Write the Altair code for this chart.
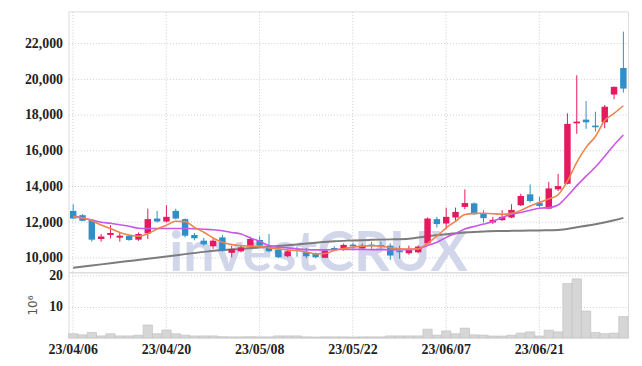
import altair as alt
import pandas as pd

dates = ["23/04/06", "23/04/07", "23/04/10", "23/04/11", "23/04/12", "23/04/13", "23/04/14",
         "23/04/17", "23/04/18", "23/04/19", "23/04/20", "23/04/21", "23/04/24", "23/04/25",
         "23/04/26", "23/04/27", "23/04/28", "23/05/02", "23/05/03", "23/05/04", "23/05/08",
         "23/05/09", "23/05/10", "23/05/11", "23/05/12", "23/05/15", "23/05/16", "23/05/17",
         "23/05/18", "23/05/19", "23/05/22", "23/05/23", "23/05/24", "23/05/25", "23/05/26",
         "23/05/30", "23/05/31", "23/06/01", "23/06/02", "23/06/05", "23/06/07", "23/06/08",
         "23/06/09", "23/06/12", "23/06/13", "23/06/14", "23/06/15", "23/06/16", "23/06/19",
         "23/06/20", "23/06/21", "23/06/22", "23/06/23", "23/06/26", "23/06/27", "23/06/28",
         "23/06/29", "23/06/30", "23/07/03", "23/07/04"]
tick_labels = ["23/04/06", "23/04/20", "23/05/08", "23/05/22", "23/06/07", "23/06/21"]

opens = [12628, 12389, 12128, 11056, 11278, 11128, 11239, 11017, 11367, 12200,
         12033, 12628, 12167, 11278, 10961, 10644, 11144, 10278, 10367, 10628,
         11000, 10589, 10444, 10089, 10444, 10311, 10222, 10000, 10550, 10533,
         10739, 10533, 10739, 10720, 10683, 10406, 10256, 10311, 10811, 12167,
         11922, 12256, 12850, 13050, 12478, 11978, 12111, 12256, 12944, 13556,
         13089, 12756, 13833, 14144, 17533, 17739, 17406, 17589, 19144, 20628]
highs = [13000, 12440, 12150, 11333, 11833, 11389, 11300, 11420, 12756, 12628,
         12944, 12750, 12200, 11389, 11111, 11056, 11278, 10683, 10700, 11183,
         11200, 11333, 10550, 10480, 10628, 10550, 10300, 10450, 10650, 10800,
         10850, 10800, 10900, 10900, 10811, 10683, 10683, 10700, 12260, 12294,
         12811, 12811, 13833, 13100, 12667, 12294, 12667, 13000, 13589, 14111,
         13422, 14256, 14700, 18089, 20222, 18778, 18183, 18556, 19600, 22667]
lows = [12180, 12050, 10906, 10906, 11089, 10906, 10950, 10950, 11056, 11978,
        11978, 12150, 11144, 10980, 10683, 10500, 10350, 10033, 10300, 10517,
        10600, 10311, 9980, 10030, 10060, 9980, 9980, 9980, 10400, 10400,
        10500, 10480, 10500, 10500, 9890, 9944, 10180, 10250, 10750, 11700,
        11611, 12070, 12720, 12400, 11978, 11889, 12070, 12220, 12900, 13089,
        12811, 12720, 13739, 14111, 16944, 17222, 17072, 17256, 18889, 19256]
closes = [12200, 12072, 11017, 11200, 11389, 11239, 11000, 11333, 12167, 12033,
          12294, 12200, 11239, 11089, 10756, 10961, 10406, 10500, 10589, 11056,
          10683, 10367, 10033, 10367, 10389, 10089, 10033, 10406, 10444, 10722,
          10644, 10683, 10644, 10640, 10128, 10311, 10500, 10628, 12200, 11889,
          12294, 12572, 13067, 12444, 12222, 12128, 12294, 12683, 13461, 13183,
          12906, 13889, 14017, 17500, 17628, 17589, 17311, 18461, 19572, 19478]
volumes = [1.3, 0.95, 1.7, 0.6, 1.3, 0.6, 0.6, 0.85, 4.1, 1.3,
           2.5, 1.3, 0.85, 0.6, 0.6, 0.6, 0.35, 0.3, 0.3, 0.35,
           0.3, 0.3, 0.6, 0.6, 0.6, 0.3, 0.25, 0.3, 0.3, 0.3,
           0.25, 0.3, 0.3, 0.3, 0.6, 0.6, 0.6, 0.6, 2.75, 0.85,
           2.2, 1.3, 3.1, 0.95, 0.85, 0.55, 0.55, 0.85, 1.5, 1.9,
           0.55, 2.45, 1.9, 17.4, 18.9, 8.6, 1.7, 1.3, 1.5, 6.8]
ma_orange = [12295, 12239, 12072, 11833, 11644, 11422, 11278, 11211, 11350, 11611,
             11822, 12044, 12028, 11700, 11433, 11111, 10867, 10739, 10683, 10656,
             10628, 10556, 10500, 10444, 10406, 10322, 10222, 10239, 10406, 10517,
             10600, 10656, 10683, 10656, 10572, 10500, 10489, 10500, 10811, 11211,
             11683, 12044, 12422, 12489, 12500, 12472, 12444, 12489, 12656, 12906,
             13111, 13295, 13533, 14295, 15350, 16184, 16795, 17684, 18089, 18517]
ma_purple = [12350, 12222, 12117, 11989, 11933, 11850, 11767, 11656, 11644, 11644,
             11644, 11644, 11640, 11628, 11600, 11572, 11517, 11422, 11333, 11111,
             10922, 10683, 10589, 10556, 10500, 10461, 10444, 10444, 10461, 10472,
             10472, 10472, 10461, 10461, 10461, 10461, 10461, 10500, 10683, 10867,
             11144, 11367, 11611, 11756, 11889, 12033, 12256, 12444, 12533, 12667,
             12778, 12811, 12961, 13461, 14045, 14572, 15083, 15684, 16323, 16878]
ma_gray_idx = [0, 2, 4, 6, 8, 10, 12, 14, 16, 18, 20, 22, 24, 26, 28, 30, 32, 34,
               36, 38, 40, 42, 44, 46, 48, 50, 52, 54, 56, 58, 59]
ma_gray = [9444, 9572, 9694, 9822, 9950, 10072, 10206, 10333, 10433, 10500,
           10572, 10656, 10750, 10850, 10933, 10972, 11006, 11033, 11072, 11211,
           11322, 11417, 11478, 11500, 11517, 11533, 11556, 11711, 11878, 12100, 12239]
price_ticks = [10000, 12000, 14000, 16000, 18000, 20000, 22000]
vol_ticks = [10, 20]

RED = "#e5195f"
BLUE = "#2f8fc6"
GRID = "#c9cbd9"
FONT = "Liberation Sans Narrow"

df = pd.DataFrame({"date": dates, "open": opens, "high": highs, "low": lows,
                   "close": closes, "volume": volumes,
                   "ma_o": ma_orange, "ma_p": ma_purple})
gdf = pd.DataFrame({"date": [dates[i] for i in ma_gray_idx], "ma_g": ma_gray})

xscale = alt.Scale(domain=dates, paddingInner=0, paddingOuter=0)
x_axis_price = alt.Axis(values=tick_labels, labels=False, ticks=False, domain=False,
                        grid=True, gridColor=GRID, gridDash=[1, 2])
x_price = alt.X("date:O", scale=xscale, sort=None, title=None, axis=x_axis_price)
yscale = alt.Scale(domain=[9189, 23800], nice=False, zero=False)
y_axis = alt.Axis(values=price_ticks, labelExpr="format(datum.value, ',')",
                  ticks=False, domain=False, grid=True,
                  gridColor=GRID, gridDash=[1, 2], labelFont=FONT, labelFontSize=14,
                  labelColor="#222", labelPadding=6, labelFontWeight="bold",
                  minExtent=50, maxExtent=50)


def py(field):
    return alt.Y(field, scale=yscale, axis=y_axis, title=None)


color_cond = alt.condition("datum.close >= datum.open", alt.value(RED), alt.value(BLUE))

base = alt.Chart(df)
watermark = alt.Chart(pd.DataFrame({"t": ["investCRUX"]})).mark_text(
    font="Lato", fontWeight="bold", fontSize=56, color="#cdd2e8", opacity=0.9,
    align="center", baseline="alphabetic"
).encode(text="t:N", x=alt.value(252), y=alt.value(262))

wick = base.mark_rule(strokeWidth=1).encode(
    x=x_price, y=py("low:Q"), y2="high:Q", color=color_cond)
body = base.mark_bar(size=6.5).encode(
    x=x_price, y=py("open:Q"), y2="close:Q", color=color_cond)
gray_line = alt.Chart(gdf).mark_line(color="#7c7c7c", strokeWidth=2, interpolate="monotone").encode(
    x=x_price, y=py("ma_g:Q"))
purple_line = base.mark_line(color="#c957e8", strokeWidth=1.6, interpolate="monotone").encode(
    x=x_price, y=py("ma_p:Q"))
orange_line = base.mark_line(color="#ee844c", strokeWidth=1.6, interpolate="monotone").encode(
    x=x_price, y=py("ma_o:Q"))

price = alt.layer(watermark, wick, gray_line, body, purple_line, orange_line).properties(
    width=564, height=263)

vol = base.mark_bar(color="#d6d6d6", stroke="#bdbdbd", strokeWidth=0.6).encode(
    x=alt.X("date:O", scale=xscale, sort=None, title=None,
            axis=alt.Axis(values=tick_labels, ticks=False, domain=False, labelAngle=0,
                          grid=True, gridColor=GRID, gridDash=[1, 2], labelFont=FONT,
                          labelFontSize=14, labelColor="#222", labelFontWeight="bold",
                          labelPadding=5)),
    y=alt.Y("volume:Q", scale=alt.Scale(domain=[0, 21], nice=False),
            title="10⁶",
            axis=alt.Axis(values=vol_ticks, ticks=False, domain=False, grid=True,
                          gridColor=GRID, gridDash=[1, 2], labelFont=FONT, labelFontSize=14,
                          labelColor="#222", labelPadding=6, labelFontWeight="bold",
                          minExtent=50, maxExtent=50, titleFont="DejaVu Sans",
                          titleFontSize=12, titleFontWeight="normal", titleColor="#555",
                          titleX=-36, titleY=33, titleAngle=-90, titleAlign="center",
                          titleBaseline="middle")),
).properties(width=564, height=66)

chart = alt.vconcat(price, vol, spacing=0, bounds="flush").properties(
    padding={"left": 10, "top": 1, "right": 5, "bottom": 2}
).configure_view(stroke="#dcdcdc", strokeWidth=1).configure_concat(spacing=0)

chart.save("out.html", embed_options={"renderer": "svg", "actions": False})
